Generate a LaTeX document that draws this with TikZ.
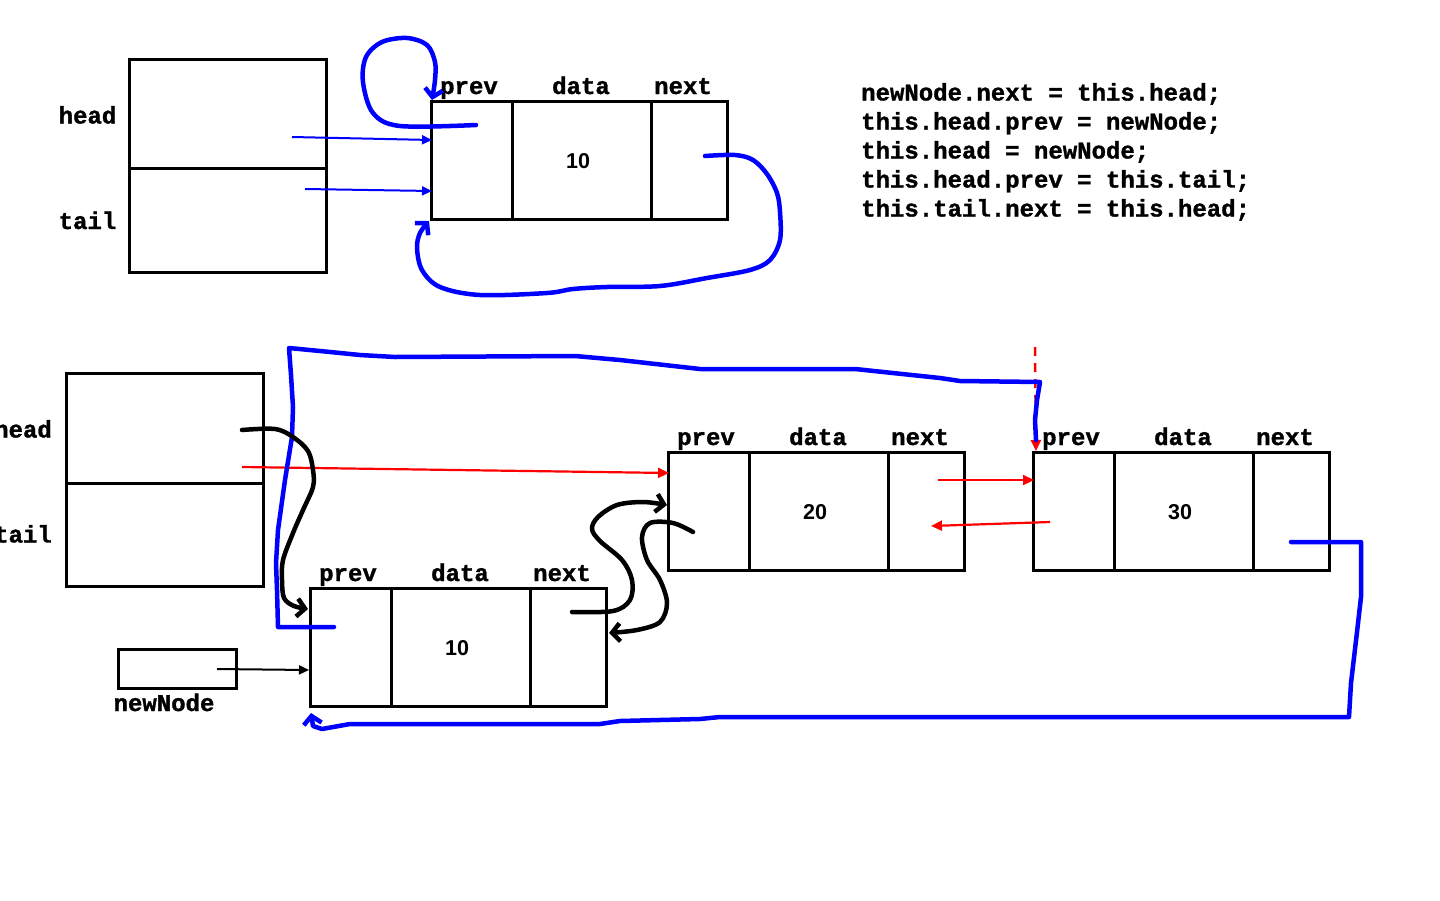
\documentclass[tikz,border=0pt]{standalone}
\usepackage{fontspec}
\usetikzlibrary{arrows.meta}
\newfontfamily\courf{Liberation Mono}[BoldFeatures={FakeBold=1.3}]
\newfontfamily\arialf{Liberation Sans}
\tikzset{
  cellbox/.style={draw, line width=3pt, anchor=north west, inner sep=0pt, outer sep=0pt, minimum height=118pt},
  regbox/.style={draw, line width=3pt, anchor=north west, inner sep=0pt, outer sep=0pt, minimum width=197pt},
  lbl/.style={font=\courf\bfseries\fontsize{24}{29}\selectfont, anchor=base, inner sep=0pt},
  num/.style={font=\arialf\bfseries\fontsize{21.5}{25}\selectfont, inner sep=0pt},
  thinblue/.style={draw=blue, line width=2pt, -{Triangle[length=10pt,width=9pt]}},
  thinblack/.style={draw=black, line width=2pt, -{Triangle[length=10pt,width=9pt]}},
  redarr/.style={draw=red, line width=2.2pt, -{Triangle[length=11pt,width=10pt]}},
  bluepen/.style={draw=blue, line width=4.5pt, line cap=round, line join=round},
  blackpen/.style={draw=black, line width=4.5pt, line cap=round, line join=round},
  pentip/.style={-{Straight Barb[length=8pt,width=18pt]}}
}
\newcommand\listnode[4]{%
  \node[cellbox, minimum width=81pt] (#1p) at (#2,#3) {};
  \node[cellbox, minimum width=139pt] (#1d) at (#2+81,#3) {};
  \node[cellbox, minimum width=76pt] (#1n) at (#2+220,#3) {};
  \node[lbl] (#1lp) at (#2+38,#3-7) {prev};
  \node[lbl] (#1ld) at (#2+150,#3-7) {data};
  \node[lbl] (#1ln) at (#2+252,#3-7) {next};
  \node[num] (#1v) at (#2+147,#3+60) {#4};
}
\begin{document}
\begin{tikzpicture}[x=1pt,y=-1pt]
\fill[white] (0,0) rectangle (1440,900);
\useasboundingbox (0,0) rectangle (1440,900);

% ---------- top part ----------
\node[regbox, minimum height=109pt] (hA) at (129,59) {};
\node[regbox, minimum height=104pt] (tA) at (129,168) {};
\node[lbl] (lhA) at (87.5,123.5) {head};
\node[lbl] (ltA) at (87.5,229) {tail};
\listnode{a}{431}{101}{10}

\foreach \i/\t in {0/{newNode.next = this.head;},1/{this.head.prev = newNode;},2/{this.head = newNode;},3/{this.head.prev = this.tail;},4/{this.tail.next = this.head;}}
  \node[lbl, anchor=base west] (code\i) at (861,100.5+29*\i) {\t};

\coordinate (hAout) at (292,137);
\coordinate (tAout) at (305,189);
\coordinate (apin1) at (432,140);
\coordinate (apin2) at (432,191);
\draw[thinblue] (hAout) -- (apin1);
\draw[thinblue] (tAout) -- (apin2);

\coordinate (apself) at (476,125);
\coordinate (aptop) at (432,100);
\draw[bluepen, pentip] plot[smooth, tension=0.55] coordinates {(apself) (400,126) (373,113) (363,82) (366,57) (382,42) (407,38) (427,45) (435,62) (435,80) (aptop)};

\coordinate (anout) at (705,156);
\coordinate (apbot) at (429,221);
\draw[bluepen, pentip] plot[smooth, tension=0.55] coordinates {(anout) (735,155) (753,160) (767,174) (777,193) (780,212) (780,240) (770,260) (750,270) (707,278) (660,286) (607,287) (573,289) (547,293) (480,295) (440,287) (422,270) (417,248) (420,233) (apbot)};

% ---------- bottom part ----------
\node[regbox, minimum height=110pt] (hB) at (66,373) {};
\node[regbox, minimum height=103pt] (tB) at (66,483) {};
\node[lbl, anchor=base east] (lhB) at (52,437.5) {head};
\node[lbl, anchor=base east] (ltB) at (52,542.5) {tail};

\listnode{b}{310}{588}{10}
\listnode{c}{668}{452}{20}
\listnode{d}{1033}{452}{30}

\node[draw, line width=2.5pt, anchor=north west, minimum width=118pt, minimum height=39pt, inner sep=0pt] (nn) at (117,648) {};
\node[lbl] (lnn) at (164,711) {newNode};

\coordinate (nnout) at (217,669);
\coordinate (bpin) at (309,670);
\draw[thinblack] (nnout) -- (bpin);

% red arrows
\coordinate (hBred) at (242,467);
\coordinate (cpin) at (669,473);
\draw[redarr] (hBred) -- (cpin);
\coordinate (cnout) at (938,480);
\coordinate (dpin) at (1034,480);
\draw[redarr] (cnout) -- (dpin);
\coordinate (dpout) at (1050,522);
\coordinate (cnin) at (931,526);
\draw[redarr] (dpout) -- (cnin);
\coordinate (dashtop) at (1035,347);
\coordinate (dptop) at (1036,451);
\draw[draw=red, line width=2.5pt, dash pattern=on 9pt off 7pt, -{Triangle[length=11pt,width=10pt]}] (dashtop) -- (dptop);

% blue big loop
\coordinate (bpself) at (334,627);
\coordinate (dpabove) at (1036,440);
\draw[bluepen] (bpself) -- (278,627) -- (277,590) -- (276,563) -- (278,530) -- (285,480) -- (292,437) -- (293,407) -- (291,375) -- (289,348) -- (320,351) -- (360,355) -- (395,357) -- (575,356) -- (620,360) -- (700,369) -- (855,369) -- (940,378) -- (960,381) -- (1040,382) -- (1037,400) -- (1035,420) -- (dpabove);

\coordinate (dnout) at (1291,542);
\coordinate (bpbot) at (311,713);
\draw[bluepen, pentip] (dnout) -- (1361,542) -- (1361,597) -- (1357,632) -- (1351,683) -- (1349,717) -- (720,717) -- (700,719) -- (620,721) -- (600,724) -- (350,724) -- (322,729) -- (313,726) -- (bpbot);

% black hand-drawn arrows
\coordinate (hBout) at (242,430);
\coordinate (bpin2) at (308,609);
\draw[blackpen, pentip] plot[smooth, tension=0.55] coordinates {(hBout) (275,429) (293,437) (308,451) (313,470) (313,487) (303,510) (293,533) (283,560) (282,580) (284,598) (294,606) (bpin2)};

\coordinate (bnout) at (572,612);
\coordinate (cpin2) at (667,505);
\draw[blackpen, pentip] plot[smooth, tension=0.55] coordinates {(bnout) (613,611) (630,600) (632,580) (622,560) (600,541) (592,529) (598,517) (617,505) (643,502) (cpin2)};

\coordinate (cpout) at (693,532);
\coordinate (bnin) at (609,633);
\draw[blackpen, pentip] plot[smooth, tension=0.55] coordinates {(cpout) (673,523) (650,523) (642,537) (647,560) (660,580) (667,603) (660,622) (637,630) (bnin)};

\end{tikzpicture}
\end{document}
